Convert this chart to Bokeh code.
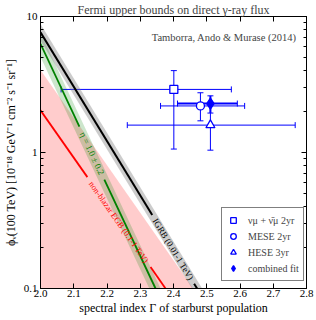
import math
from bokeh.plotting import figure
from bokeh.models import (Range1d, FixedTicker, LinearAxis, LogAxis, Label, Legend,
                          LegendItem, Whisker, ColumnDataSource, TeeHead)
from bokeh.core.properties import value
from bokeh.embed import file_html
from bokeh.resources import INLINE

FONT = "Liberation Serif"

# ---------------- data ----------------
x_ticks = ["2.0", "2.1", "2.2", "2.3", "2.4", "2.5", "2.6", "2.7", "2.8"]
y_ticks = ["0.1", "1", "10"]
y_minor = [0.2, 0.3, 0.4, 0.5, 0.6, 0.7, 0.8, 0.9, 2, 3, 4, 5, 6, 7, 8, 9]

# IGRB (0.01-1 TeV) bound: black line (broken for its label) and grey band
igrb_gamma_a = [2.0, 2.336]
igrb_flux_a = [7.65, 0.3465]
igrb_gamma_b = [2.462, 2.471]
igrb_flux_b = [0.1085, 0.1]
igrb_band_gamma = [2.0, 2.5]
igrb_band_lo = [6.65, 0.0665]
igrb_band_hi = [8.80, 0.088]
igrb_label_gamma = 2.399
igrb_label_flux = 0.194

# eta = 1.0 +- 0.2 : green line and band
green_gamma_a = [2.0, 2.117]
green_flux_a = [6.3, 1.55]
green_gamma_b = [2.192, 2.346]
green_flux_b = [0.633, 0.1]
green_band_gamma = [2.0, 2.4]
green_band_lo = [5.04, 0.0418]
green_band_hi = [7.56, 0.0628]
green_label_gamma = 2.155
green_label_flux = 0.985

# non-blazar EGB (0.1-1 TeV): red line and pink region
red_gamma_a = [2.0, 2.141]
red_flux_a = [2.04, 0.659]
red_gamma_b = [2.331, 2.376]
red_flux_b = [0.1438, 0.1]
red_label_gamma = 2.236
red_label_flux = 0.308
pink_gamma = [2.0, 2.5]
pink_hi = [4.05, 0.072]
pink_lo = [0.05, 0.05]

# IceCube points
pt_labels = ["\u03bd\u03bc + \u03bd\u0304\u03bc 2yr", "MESE 2yr", "HESE 3yr", "combined fit"]
pt_markers = ["square", "circle", "triangle", "diamond"]
pt_gamma = [2.401, 2.481, 2.511, 2.511]
pt_flux = [2.91, 2.20, 1.59, 2.29]
pt_gamma_lo = [2.062, 2.361, 2.261, 2.412]
pt_gamma_hi = [2.574, 2.614, 2.766, 2.592]
pt_flux_lo = [1.06, 1.71, 1.04, 1.95]
pt_flux_hi = [4.00, 2.75, 2.30, 2.61]
pt_fill = [None, None, None, "blue"]
pt_size = [8, 8, 9, 11]
pt_err_width = [1, 1, 1, 2]

title_text = "Fermi upper bounds on direct \u03b3-ray flux"
x_label = "spectral index \u0393 of starburst population"
y_label = ("\u03d5\u1d65(100 TeV) [10\u207b\u00b9\u2078 GeV\u207b\u00b9 cm\u207b\u00b2 "
           "s\u207b\u00b9 sr\u207b\u00b9]")
credit = "Tamborra, Ando & Murase (2014)"

# ---------------- figure ----------------
W, H = 316, 320
ML, MR, MT, MB = 40, 10, 13, 32
FW = W - ML - MR

p = figure(width=W, height=H, x_range=Range1d(2.0, 2.8), y_range=Range1d(0.1, 10),
           y_axis_type="log", output_backend="svg", toolbar_location=None,
           min_border_left=ML, min_border_right=MR, min_border_top=MT,
           min_border_bottom=MB)
p.grid.visible = False
p.outline_line_color = "black"
p.background_fill_color = "white"
p.border_fill_color = "white"

p.title.text = title_text
p.title.text_font = FONT
p.title.text_font_size = "12px"
p.title.text_font_style = "normal"
p.title.align = "center"
p.title.standoff = 0
p.title.offset = 0

xt = [float(s) for s in x_ticks]
yt = [float(s) for s in y_ticks]

def style_axis(ax, show_labels):
    ax.axis_line_color = "black"
    ax.major_tick_in = 5
    ax.major_tick_out = 0
    ax.minor_tick_in = 3
    ax.minor_tick_out = 0
    ax.major_tick_line_color = "black"
    ax.minor_tick_line_color = "black"
    if show_labels:
        ax.major_label_text_font = FONT
        ax.major_label_text_font_size = "11px"
        ax.major_label_text_color = "black"
        ax.axis_label_text_font = FONT
        ax.axis_label_text_font_size = "12px"
        ax.axis_label_text_font_style = "normal"
        ax.axis_label_text_color = "black"
    else:
        ax.major_label_text_font_size = "0px"
        ax.major_label_standoff = 0

xa = p.xaxis[0]
xa.ticker = FixedTicker(ticks=xt)
xa.major_label_overrides = {v: s for v, s in zip(xt, x_ticks)}
xa.major_label_standoff = 1
xa.axis_label = x_label
xa.axis_label_standoff = 1
style_axis(xa, True)

ya = p.yaxis[0]
ya.ticker = FixedTicker(ticks=yt, minor_ticks=y_minor)
ya.major_label_overrides = {v: s for v, s in zip(yt, y_ticks)}
ya.major_label_standoff = 3
ya.axis_label = y_label
ya.axis_label_standoff = 3
style_axis(ya, True)

top = LinearAxis(ticker=FixedTicker(ticks=xt))
top.major_label_overrides = {v: "" for v in xt}
style_axis(top, False)
p.add_layout(top, "above")

right = LogAxis(ticker=FixedTicker(ticks=yt, minor_ticks=y_minor))
right.major_label_overrides = {v: "" for v in yt}
style_axis(right, False)
p.add_layout(right, "right")

# ---------------- shaded regions ----------------
p.varea(x=pink_gamma, y1=pink_lo, y2=pink_hi, fill_color="red", fill_alpha=0.2)
p.varea(x=green_band_gamma, y1=green_band_lo, y2=green_band_hi, fill_color="green", fill_alpha=0.2)
p.varea(x=igrb_band_gamma, y1=igrb_band_lo, y2=igrb_band_hi, fill_color="gray", fill_alpha=0.4)

# ---------------- lines ----------------
for gx, fy in ((igrb_gamma_a, igrb_flux_a), (igrb_gamma_b, igrb_flux_b)):
    p.line(gx, fy, line_color="black", line_width=2)
for gx, fy in ((green_gamma_a, green_flux_a), (green_gamma_b, green_flux_b)):
    p.line(gx, fy, line_color="green", line_width=1.8)
for gx, fy in ((red_gamma_a, red_flux_a), (red_gamma_b, red_flux_b)):
    p.line(gx, fy, line_color="red", line_width=1.8)

# approximate frame size in pixels, used to rotate the in-plot labels
ppx = FW / 0.8
ppd = 272 / 2.0

def angle_of(gx, fy):
    s = (math.log10(fy[0]) - math.log10(fy[-1])) / (gx[-1] - gx[0])
    return -math.degrees(math.atan(s * ppd / ppx))

def line_label(gx, fy, lx, ly, txt, color, size):
    p.text(x=[lx], y=[ly], text=[txt], angle=angle_of(gx, fy), angle_units="deg",
           text_font=value(FONT), text_font_size=size, text_color=color,
           text_align="center", text_baseline="middle")

line_label(igrb_gamma_a, igrb_flux_a, igrb_label_gamma, igrb_label_flux,
           "IGRB (0.01-1 TeV)", "black", "9px")
line_label(green_gamma_a, green_flux_a, green_label_gamma, green_label_flux,
           "\u03b7 = 1.0 \u00b1 0.2", "green", "9px")
line_label(red_gamma_a, red_flux_a, red_label_gamma, red_label_flux,
           "non-blazar EGB (0.1-1 TeV)", "red", "8.5px")

# ---------------- points with error bars ----------------
items = []
for i in range(len(pt_gamma)):
    src = ColumnDataSource(dict(g=[pt_gamma[i]], f=[pt_flux[i]], glo=[pt_gamma_lo[i]],
                                ghi=[pt_gamma_hi[i]], flo=[pt_flux_lo[i]], fhi=[pt_flux_hi[i]]))
    lw = pt_err_width[i]
    p.add_layout(Whisker(source=src, base="f", lower="glo", upper="ghi", dimension="width",
                         line_color="blue", line_width=lw,
                         lower_head=TeeHead(size=6, line_color="blue", line_width=1),
                         upper_head=TeeHead(size=6, line_color="blue", line_width=1)))
    p.add_layout(Whisker(source=src, base="g", lower="flo", upper="fhi", dimension="height",
                         line_color="blue", line_width=lw,
                         lower_head=TeeHead(size=6, line_color="blue", line_width=1),
                         upper_head=TeeHead(size=6, line_color="blue", line_width=1)))
    r = p.scatter(x="g", y="f", source=src, marker=pt_markers[i], size=pt_size[i],
                  line_color="blue", line_width=1.3,
                  fill_color=pt_fill[i] if pt_fill[i] else "white")
    items.append(LegendItem(label=pt_labels[i], renderers=[r]))

legend = Legend(items=items, location=(181, 7), border_line_color="black",
                border_line_width=1, background_fill_color="white", background_fill_alpha=1,
                label_text_font=FONT, label_text_font_size="10px", glyph_width=14,
                glyph_height=16, label_height=16, label_standoff=8, padding=4,
                spacing=0, margin=0)
p.add_layout(legend)

p.add_layout(Label(x=FW - 10, y=251, x_units="screen", y_units="screen",
                   text=credit, text_font=FONT, text_font_size="10.5px",
                   text_align="right", text_baseline="alphabetic"))

open("out.html", "w").write(file_html(p, INLINE))
